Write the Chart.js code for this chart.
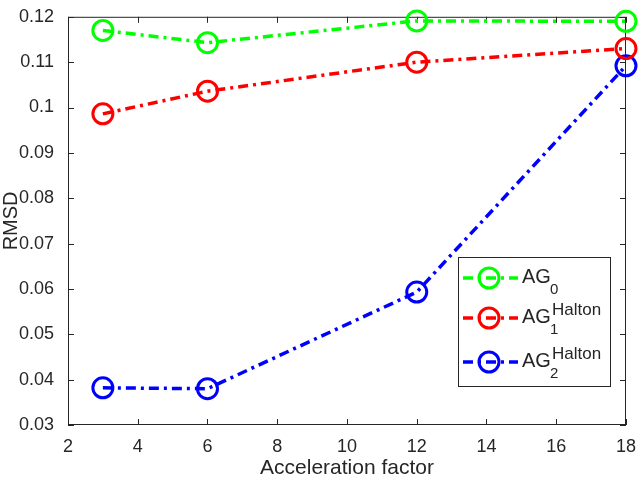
<!DOCTYPE html>
<html>
<head>
<meta charset="utf-8">
<script src="https://cdn.jsdelivr.net/npm/chart.js@4.4.1/dist/chart.umd.min.js"></script>
<style>
  html, body { margin: 0; padding: 0; background: #fff; }
  #wrap { width: 639px; height: 480px; position: relative; }
</style>
</head>
<body>
<div id="wrap"><canvas id="c"></canvas></div>
<script>
'use strict';

// RMSD vs acceleration factor.
const factors = [3, 6, 12, 18];
const ag0 = [0.1170, 0.1143, 0.1191, 0.1190];
const ag1 = [0.0986, 0.1036, 0.1100, 0.1130];
const ag2 = [0.0382, 0.0380, 0.0593, 0.1092];

const xTicks = [2, 4, 6, 8, 10, 12, 14, 16, 18];
const yTicks = [0.03, 0.04, 0.05, 0.06, 0.07, 0.08, 0.09, 0.1, 0.11, 0.12];

// legend text: base, subscript, superscript
const legBase = ['AG', 'AG', 'AG'];
const legSub = ['0', '1', '2'];
const legSup = ['', 'Halton', 'Halton'];

const colors = ['#00ff00', '#ff0000', '#0000ff'];
const AXIS = '#262626';
const FONT = '"Liberation Sans", Arial, Helvetica, sans-serif';
const DASH = [10, 5, 3, 5];

function series(label, ys, color) {
  return {
    label: label,
    data: factors.map(function (x, i) { return { x: x, y: ys[i] }; }),
    borderColor: color,
    backgroundColor: 'rgba(0,0,0,0)',
    borderWidth: 3.5,
    borderDash: DASH,
    pointRadius: 10,
    pointBorderWidth: 3,
    pointBorderColor: color,
    pointBackgroundColor: 'rgba(0,0,0,0)',
    pointHoverRadius: 10,
    tension: 0,
    clip: false,
  };
}

// box with inward ticks on all four sides (MATLAB style)
const frame = {
  id: 'frame',
  beforeDatasetsDraw(chart) {
    const a = chart.chartArea, ctx = chart.ctx;
    const xs = chart.scales.x, ys = chart.scales.y;
    ctx.save();
    ctx.strokeStyle = AXIS;
    ctx.lineWidth = 1;
    ctx.strokeRect(a.left + 0.5, a.top + 0.5, a.right - a.left - 1, a.bottom - a.top - 1);
    ctx.beginPath();
    xTicks.forEach(function (v) {
      const px = Math.round(xs.getPixelForValue(v)) + 0.5;
      ctx.moveTo(px, a.bottom); ctx.lineTo(px, a.bottom - 6);
      ctx.moveTo(px, a.top); ctx.lineTo(px, a.top + 6);
    });
    yTicks.forEach(function (v) {
      const py = Math.round(ys.getPixelForValue(v)) + 0.5;
      ctx.moveTo(a.left, py); ctx.lineTo(a.left + 6, py);
      ctx.moveTo(a.right, py); ctx.lineTo(a.right - 6, py);
    });
    ctx.stroke();
    ctx.restore();
  }
};

// legend with sub/superscripts, drawn in the lower right
const mathLegend = {
  id: 'mathLegend',
  afterDraw(chart) {
    const ctx = chart.ctx;
    const L = 458, T = 257, W = 152, H = 129;
    ctx.save();
    ctx.fillStyle = '#fff';
    ctx.fillRect(L, T, W, H);
    ctx.strokeStyle = AXIS;
    ctx.lineWidth = 1;
    ctx.strokeRect(L + 0.5, T + 0.5, W, H);
    const rows = [278, 318, 362];
    rows.forEach(function (y, i) {
      ctx.strokeStyle = colors[i];
      ctx.lineWidth = 3.5;
      ctx.setLineDash(DASH);
      ctx.beginPath();
      ctx.moveTo(463, y); ctx.lineTo(518, y);
      ctx.stroke();
      ctx.setLineDash([]);
      ctx.lineWidth = 3;
      ctx.beginPath();
      ctx.arc(489, y, 10, 0, Math.PI * 2);
      ctx.stroke();
      ctx.fillStyle = AXIS;
      ctx.textBaseline = 'alphabetic';
      ctx.font = '20px ' + FONT;
      ctx.fillText(legBase[i], 522, y + 5);
      ctx.font = '15px ' + FONT;
      ctx.fillText(legSub[i], 550, y + 16);
      if (legSup[i]) {
        ctx.font = '17px ' + FONT;
        ctx.fillText(legSup[i], 552, y - 3);
      }
    });
    ctx.restore();
  }
};

new Chart(document.getElementById('c'), {
  type: 'line',
  data: {
    datasets: [
      series('AG0', ag0, colors[0]),
      series('AG1 Halton', ag1, colors[1]),
      series('AG2 Halton', ag2, colors[2]),
    ],
  },
  options: {
    responsive: true,
    maintainAspectRatio: false,
    animation: false,
    events: [],
    layout: { padding: { left: 0, right: 12, top: 8, bottom: 0 } },
    plugins: { legend: { display: false }, tooltip: { enabled: false } },
    scales: {
      x: {
        type: 'linear',
        min: 2, max: 18,
        afterBuildTicks: function (s) { s.ticks = xTicks.map(function (v) { return { value: v }; }); },
        ticks: { color: AXIS, font: { family: FONT, size: 18 }, padding: 3, maxRotation: 0 },
        grid: { display: false },
        border: { display: false },
        title: { display: true, text: 'Acceleration factor', color: AXIS, font: { family: FONT, size: 21, lineHeight: 1 }, padding: { top: 0, bottom: 1 } },
        afterFit: function (s) { s.height = 55; },
      },
      y: {
        type: 'linear',
        min: 0.03, max: 0.12,
        afterBuildTicks: function (s) { s.ticks = yTicks.map(function (v) { return { value: v }; }); },
        ticks: {
          color: AXIS, font: { family: FONT, size: 18 }, padding: 6,
          callback: function (v) { return String(Number(v.toFixed(2))); },
        },
        grid: { display: false },
        border: { display: false },
        title: { display: true, text: 'RMSD', color: AXIS, font: { family: FONT, size: 20, lineHeight: 1 }, padding: { top: 1, bottom: 0 } },
        afterFit: function (s) { s.width = 68; },
      },
    },
  },
  plugins: [frame, mathLegend],
});
</script>
</body>
</html>
